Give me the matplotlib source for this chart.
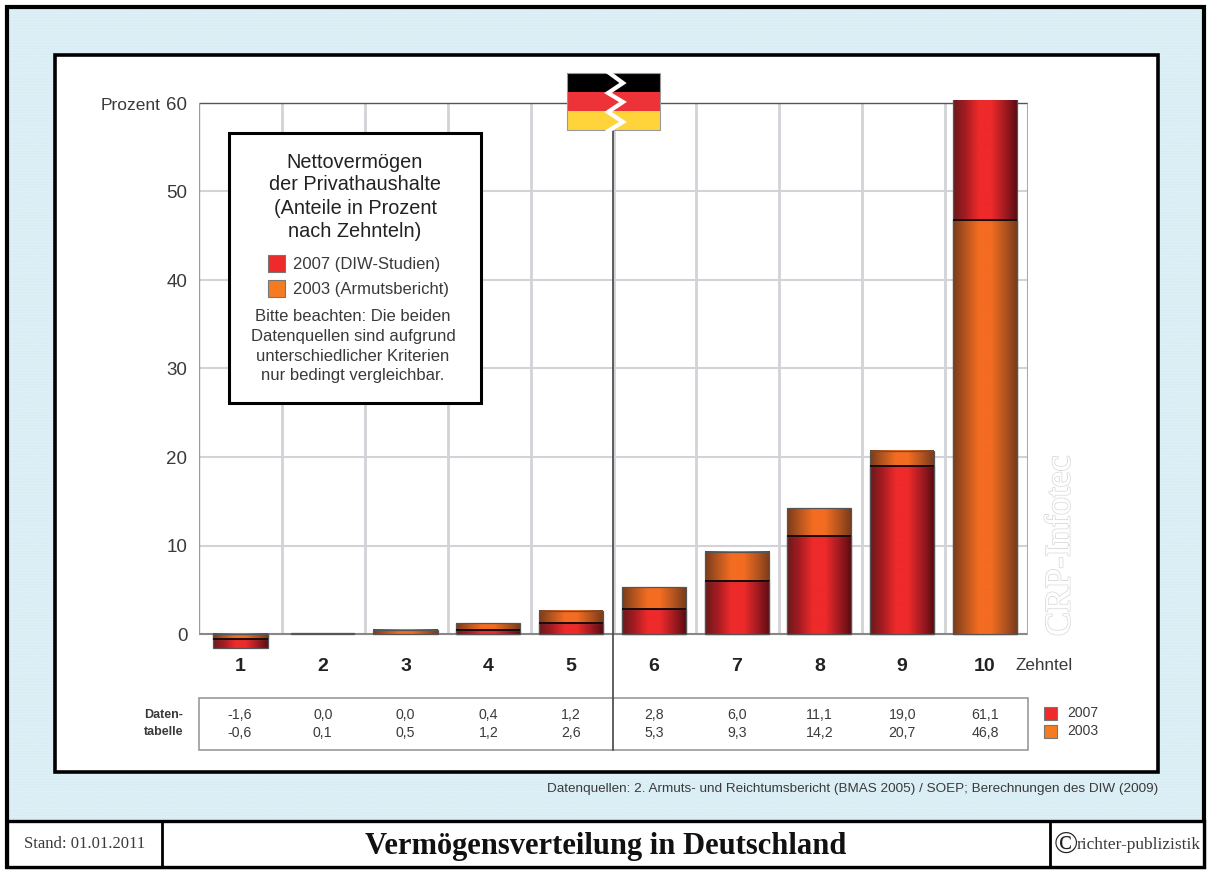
import matplotlib
matplotlib.use('Agg')
import matplotlib.pyplot as plt
import numpy as np
from matplotlib.colors import LinearSegmentedColormap
from matplotlib.patches import Rectangle
from matplotlib.transforms import blended_transform_factory
import matplotlib.patheffects as pe

# Data
deciles = [1, 2, 3, 4, 5, 6, 7, 8, 9, 10]
values_2007 = [-1.6, 0.0, 0.0, 0.4, 1.2, 2.8, 6.0, 11.1, 19.0, 61.1]
values_2003 = [-0.6, 0.1, 0.5, 1.2, 2.6, 5.3, 9.3, 14.2, 20.7, 46.8]
y_ticks = [0, 10, 20, 30, 40, 50, 60]

W, H = 1207, 871
SANS = 'Liberation Sans'
SERIF = 'Liberation Serif'
TXT = '#3a3a3a'
GRID = '#d3d3d7'
FRAME = '#999999'

fig = plt.figure(figsize=(W / 100, H / 100), dpi=100, facecolor='white')

# background layer in pixel coordinates
bg = fig.add_axes([0, 0, 1, 1], zorder=0)
bg.set_xlim(0, W)
bg.set_ylim(H, 0)
bg.axis('off')


def box(a, x0, y0, x1, y1, fc='white', ec='black', lw=2.2, **kw):
    r = Rectangle((x0, y0), x1 - x0, y1 - y0, facecolor=fc, edgecolor=ec, linewidth=lw, **kw)
    a.add_patch(r)
    return r


plt.rcParams['hatch.linewidth'] = 0.4
bg.add_patch(Rectangle((7, 7), 1197, 860, facecolor='#d9edf4', edgecolor='#e9f5f9', hatch='......', linewidth=0))
box(bg, 7, 7, 1204, 867, fc='none', lw=3)
box(bg, 55, 55, 1158, 772, lw=2.6)
box(bg, 7, 821, 1204, 867, lw=2.4)
bg.plot([162, 162], [821, 867], color='black', lw=2)
bg.plot([1050, 1050], [821, 867], color='black', lw=2)

# main plot, 0..60 runs from y=634 to y=103
px_per_unit = (634 - 103) / 60
y_low, y_high = -2.0, 60.3
ax_top = 634 - y_high * px_per_unit
ax_bot = 634 - y_low * px_per_unit
ax = fig.add_axes([199 / W, 1 - ax_bot / H, (1028 - 199) / W, (ax_bot - ax_top) / H], zorder=1)
ax.patch.set_alpha(0)
for s in ax.spines.values():
    s.set_visible(False)

# frame and grid follow the axes width, bars sit a little tighter than the grid
tr = ax.get_yaxis_transform()
ax.hlines(y_ticks[1:-1], 0, 1, transform=tr, color=GRID, lw=1.5, zorder=1)
ax.vlines(np.arange(1, 10) / 10, 0, 60, transform=tr, color=GRID, lw=2, zorder=1)
ax.hlines(0, 0, 1, transform=tr, color='#888888', lw=1.5, zorder=2)
ax.hlines(60, 0, 1, transform=tr, color='#555555', lw=1.0, zorder=2)
ax.vlines(0, 0, 60, transform=tr, color=FRAME, lw=1.7, zorder=2)
ax.vlines(1, 0, 60, transform=tr, color='#aaaaaa', lw=2.2, zorder=2)

red_map = LinearSegmentedColormap.from_list('r', ['#6a1a1c', '#a81c22', '#ee2a2a', '#ee2a2a', '#a81c22', '#5c0c12'])
orange_map = LinearSegmentedColormap.from_list('o', ['#7a3c1a', '#b8561f', '#f36c21', '#f36c21', '#b8561f', '#7a3c1a'])
gradient = np.linspace(0, 1, 128).reshape(1, -1)
bar_widths = [55, 63, 65, 64, 64, 64, 64, 64, 64, 64]
px_per_cat = (985 - 240) / 9


def draw_bar(x, v, cmap, z, w):
    ax.imshow(gradient, extent=[x - w / 2, x + w / 2, min(v, 0), max(v, 0)],
              cmap=cmap, aspect='auto', zorder=z, interpolation='bilinear')
    ax.bar(x, v, width=w, facecolor='none', edgecolor='#555555', linewidth=0.9, zorder=z + 0.1)


# the larger share stands behind the smaller one, a black line on the front one
for x, a, b, bw in zip(deciles, values_2007, values_2003, bar_widths):
    w = bw / px_per_cat
    parts = sorted([(a, red_map), (b, orange_map)], key=lambda p: -abs(p[0]))
    for i, (v, cmap) in enumerate(parts):
        if v != 0:
            draw_bar(x, v, cmap, 3 + i, w)
    front = parts[1][0]
    if front != 0:
        ax.hlines(front, x - w / 2, x + w / 2, color='#1a0a08', lw=1.4, zorder=6)

ax.set_xlim(1 - (240 - 199) / px_per_cat, 1 + (1028 - 240) / px_per_cat)
ax.set_ylim(y_low, y_high)
ax.set_xticks(deciles)
ax.set_xticklabels([])
ax.set_yticks(y_ticks)
ax.set_yticklabels([str(t) for t in y_ticks], fontsize=13.5, color=TXT, fontfamily=SANS)
ax.tick_params(axis='both', length=0)
ax.tick_params(axis='y', pad=8.4)

# overlay in pixel coordinates
ov = fig.add_axes([0, 0, 1, 1], zorder=2)
ov.set_xlim(0, W)
ov.set_ylim(H, 0)
ov.axis('off')
ov.patch.set_alpha(0)
cat_tr = blended_transform_factory(ax.transData, ov.transData)

for x in deciles:
    ov.text(x, 666, str(x), transform=cat_tr, ha='center', va='center', fontsize=14, fontweight='bold',
            color='#222222', family=SANS)
ov.text(101, 105, 'Prozent', ha='left', va='center', fontsize=12.5, color=TXT, family=SANS)
ov.text(1015, 665, 'Zehntel', ha='left', va='center', fontsize=12.3, color=TXT, family=SANS)

# centre line and flag
ov.plot([613, 613], [130, 750], color='#444444', lw=1.2, zorder=3)
box(ov, 567, 73, 660, 92, fc='black', ec='none', lw=0, zorder=4)
box(ov, 567, 92, 660, 111, fc='#ee3338', ec='none', lw=0, zorder=4)
box(ov, 567, 111, 660, 130, fc='#ffd43b', ec='none', lw=0, zorder=4)
box(ov, 567, 73, 660, 130, fc='none', ec='#999999', lw=0.8, zorder=4)
ov.plot([608, 623, 608, 623, 608, 623, 608], [72, 83, 93, 102, 112, 122, 131], color='white', lw=3, zorder=5,
        solid_joinstyle='miter')

# legend box
box(ov, 229, 133, 481, 403, lw=2.2, zorder=4)
for y, s in zip([162, 185, 208, 231], ['Nettovermögen', 'der Privathaushalte', '(Anteile in Prozent', 'nach Zehnteln)']):
    ov.text(355, y, s, ha='center', va='center', fontsize=14.3, color='#222222', family=SANS, zorder=5)
box(ov, 268, 255, 285, 272, fc='#ee2a2a', ec='#777777', lw=0.8, zorder=5)
box(ov, 268, 280, 285, 297, fc='#f47b20', ec='#777777', lw=0.8, zorder=5)
ov.text(293, 264, '2007 (DIW-Studien)', ha='left', va='center', fontsize=12, color=TXT, family=SANS, zorder=5)
ov.text(293, 289, '2003 (Armutsbericht)', ha='left', va='center', fontsize=12, color=TXT, family=SANS, zorder=5)
for y, s in zip([316, 336, 356, 375], ['Bitte beachten: Die beiden', 'Datenquellen sind aufgrund',
                                       'unterschiedlicher Kriterien', 'nur bedingt vergleichbar.']):
    ov.text(353, y, s, ha='center', va='center', fontsize=12, color=TXT, family=SANS, zorder=5)

# data table
box(ov, 199, 698, 1028, 750, fc='none', ec=FRAME, lw=1.2)
for x, a, b in zip(deciles, values_2007, values_2003):
    ov.text(x, 715, f'{a:.1f}'.replace('.', ','), transform=cat_tr, ha='center', va='center', fontsize=10.2,
            color=TXT, family=SANS)
    ov.text(x, 733, f'{b:.1f}'.replace('.', ','), transform=cat_tr, ha='center', va='center', fontsize=10.2,
            color=TXT, family=SANS)
ov.text(183, 715, 'Daten-', ha='right', va='center', fontsize=9, color=TXT, family=SANS, fontweight='bold')
ov.text(183, 732, 'tabelle', ha='right', va='center', fontsize=9, color=TXT, family=SANS, fontweight='bold')
box(ov, 1044, 707, 1057, 720, fc='#ee2a2a', ec='#777777', lw=0.8)
box(ov, 1044, 725, 1057, 738, fc='#f47b20', ec='#777777', lw=0.8)
ov.text(1067, 713, '2007', ha='left', va='center', fontsize=10, color=TXT, family=SANS)
ov.text(1067, 731, '2003', ha='left', va='center', fontsize=10, color=TXT, family=SANS)

# watermark
wm = ov.text(1061, 636, 'CRP-Infotec', rotation=90, ha='center', va='bottom', fontsize=25.7, color='white', family=SERIF)
wm.set_path_effects([pe.withStroke(linewidth=1.4, foreground='#dcdcdc'), pe.Normal()])

# footer
ov.text(1158, 789, 'Datenquellen: 2. Armuts- und Reichtumsbericht (BMAS 2005) / SOEP; Berechnungen des DIW (2009)',
        ha='right', va='center', fontsize=9.7, color=TXT, family=SANS)
ov.text(85, 844, 'Stand: 01.01.2011', ha='center', va='center', fontsize=12, color=TXT, family=SERIF)
ov.text(606, 846, 'Vermögensverteilung in Deutschland', ha='center', va='center', fontsize=22, fontweight='bold',
        color='#111111', family=SERIF)
ov.text(1066, 845, '©', ha='center', va='center', fontsize=23, color='#222222', family=SERIF)
ov.text(1077, 845, 'richter-publizistik', ha='left', va='center', fontsize=12.5, color=TXT, family=SERIF)

fig.savefig('out.png', dpi=100)
